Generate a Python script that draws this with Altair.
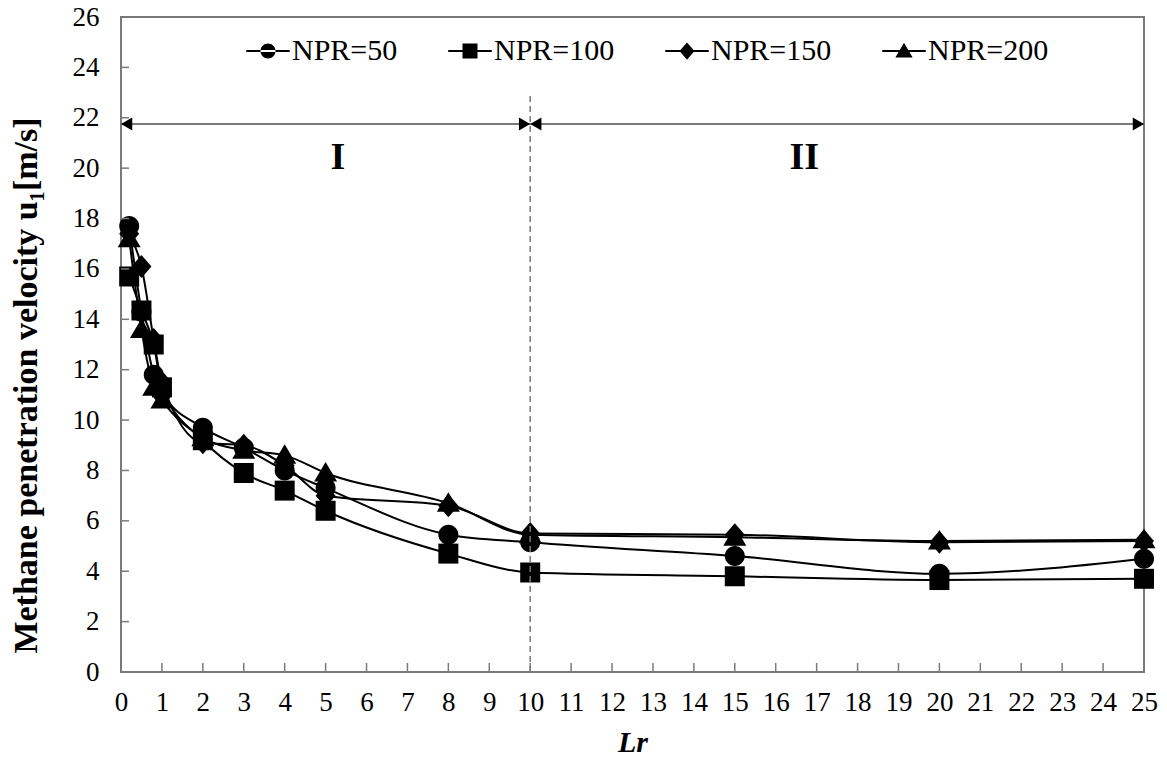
import altair as alt
import pandas as pd

# ---- data ----
lr = [0.2, 0.5, 0.8, 1, 2, 3, 4, 5, 8, 10, 15, 20, 25]
npr50 = [17.7, 14.3, 11.8, 11.1, 9.7, 8.9, 8.0, 7.3, 5.45, 5.15, 4.6, 3.9, 4.5]
npr100 = [15.7, 14.35, 13.0, 11.3, 9.2, 7.9, 7.2, 6.4, 4.7, 3.95, 3.8, 3.65, 3.7]
npr150 = [17.4, 16.1, 13.2, 11.5, 9.1, 9.0, 8.2, 7.0, 6.6, 5.5, 5.45, 5.15, 5.2]
npr200 = [17.2, 13.6, 11.3, 10.8, 9.3, 8.8, 8.6, 7.9, 6.7, 5.45, 5.35, 5.2, 5.25]
series_names = ["NPR=50", "NPR=100", "NPR=150", "NPR=200"]

x_ticks = list(range(0, 26))
y_ticks = list(range(0, 27, 2))

region_labels = ["I", "II"]
region_x = [5.3, 16.7]
region_y = [20.4, 20.4]

arrow_y = 21.75
arrow_start = [0, 10]
arrow_end = [10, 25]
divider_x = [10]
divider_top = [22.9]

SERIF = "Liberation Serif"
W, H = 1023, 655

rows = []
for name, vals in zip(series_names, [npr50, npr100, npr150, npr200]):
    for xv, yv in zip(lr, vals):
        rows.append({"Lr": xv, "u": yv, "series": name})
df = pd.DataFrame(rows)

# marker shapes (unit square)
marker_paths = [
    "M-1,0A1,1,0,1,0,1,0A1,1,0,1,0,-1,0Z",
    "M-1,-1L1,-1L1,1L-1,1Z",
    "M0,-1.15L1,0L0,1.15L-1,0Z",
    "M0,-1.1L1.15,0.85L-1.15,0.85Z",
]
# legend symbols: same markers with a horizontal bar through them
bar = "M-2.9,-0.12L2.9,-0.12L2.9,0.12L-2.9,0.12Z"
legend_paths = [bar + p for p in marker_paths]

xscale = alt.Scale(domain=[0, 25], nice=False, zero=False)
yscale = alt.Scale(domain=[0, 26], nice=False)

x_axis = alt.Axis(values=x_ticks, ticks=False, tickSize=0, domain=False, grid=False,
                  labelFont=SERIF, labelFontSize=27, labelColor="black", labelPadding=17,
                  labelFlush=False, title="Lr", titleFont=SERIF, titleFontSize=30,
                  titleFontWeight="bold", titleFontStyle="italic", titleColor="black",
                  titlePadding=12)
y_axis = alt.Axis(values=y_ticks, ticks=False, tickSize=0, domain=False, grid=False,
                  labelFont=SERIF, labelFontSize=27, labelColor="black", labelPadding=22,
                  labelFlush=False, title="Methane penetration velocity u\u2081[m/s]",
                  titleFont=SERIF, titleFontSize=34, titleFontWeight="bold",
                  titleColor="black", titlePadding=29, titleY=368)


def X(field):
    return alt.X(field, scale=xscale, axis=x_axis)


def Y(field):
    return alt.Y(field, scale=yscale, axis=y_axis)


base = alt.Chart(df)

lines = base.mark_line(color="black", strokeWidth=2, interpolate="monotone").encode(
    x=X("Lr:Q"), y=Y("u:Q"), detail="series:N",
)

points = base.mark_point(filled=True, opacity=1, strokeWidth=0, size=400, color="black").encode(
    x=X("Lr:Q"), y=Y("u:Q"),
    shape=alt.Shape("series:N", scale=alt.Scale(domain=series_names, range=marker_paths),
                    legend=None),
)

# legend-only layer (no rows drawn; the legend comes from the explicit scale domain)
legend_layer = base.transform_filter("false").mark_point(
    filled=True, opacity=1, strokeWidth=0, color="black"
).encode(
    x=X("Lr:Q"), y=Y("u:Q"),
    shape=alt.Shape(
        "series:N",
        scale=alt.Scale(domain=series_names, range=legend_paths),
        legend=alt.Legend(
            title=None, orient="none", legendX=132, legendY=19,
            direction="horizontal", columns=4, columnPadding=50,
            labelFont=SERIF, labelFontSize=30, labelColor="black", labelOffset=9,
            symbolSize=225, symbolFillColor="black", symbolStrokeWidth=0, symbolOpacity=1,
        ),
    ),
)

div_df = pd.DataFrame({"x": divider_x, "y": [0], "y2": divider_top})
divider = alt.Chart(div_df).mark_rule(color="#7a7a7a", strokeWidth=1.5, strokeDash=[6, 4]).encode(
    x=X("x:Q"), y=Y("y:Q"), y2="y2:Q",
)

arr_df = pd.DataFrame({"x": arrow_start, "x2": arrow_end, "y": [arrow_y] * 2})
arrow_lines = alt.Chart(arr_df).mark_rule(color="#7a7a7a", strokeWidth=2).encode(
    x=X("x:Q"), x2="x2:Q", y=Y("y:Q"),
)
head_left = alt.Chart(arr_df).mark_point(shape="triangle-left", filled=True, opacity=1,
                                         size=170, color="black", xOffset=5.6).encode(
    x=X("x:Q"), y=Y("y:Q"),
)
head_right = alt.Chart(arr_df).mark_point(shape="triangle-right", filled=True, opacity=1,
                                          size=170, color="black", xOffset=-5.6).encode(
    x=X("x2:Q"), y=Y("y:Q"),
)

reg_df = pd.DataFrame({"x": region_x, "y": region_y, "t": region_labels})
regions = alt.Chart(reg_df).mark_text(font=SERIF, fontWeight="bold", fontSize=38,
                                      color="black", baseline="middle", align="center").encode(
    x=X("x:Q"), y=Y("y:Q"), text="t:N",
)

ytk = alt.Chart(pd.DataFrame({"v": y_ticks})).mark_rule(color="#7a7a7a", strokeWidth=1.5).encode(
    y=Y("v:Q"), x=alt.value(0), x2=alt.value(8),
)
xtk = alt.Chart(pd.DataFrame({"v": x_ticks})).mark_rule(color="#7a7a7a", strokeWidth=1.5).encode(
    x=X("v:Q"), y=alt.value(H), y2=alt.value(H - 9),
)

chart = alt.layer(
    lines, points, legend_layer, ytk, xtk, divider, arrow_lines, head_left, head_right, regions
).resolve_scale(
    shape="independent"
).properties(
    width=W, height=H,
    autosize=alt.AutoSizeParams(type="none"),
    padding={"left": 113, "top": 9, "right": 15, "bottom": 84},
    background="white",
).configure_view(
    stroke="#7a7a7a", strokeWidth=2,
)

chart.save("out.html", embed_options={"renderer": "svg", "actions": False})
